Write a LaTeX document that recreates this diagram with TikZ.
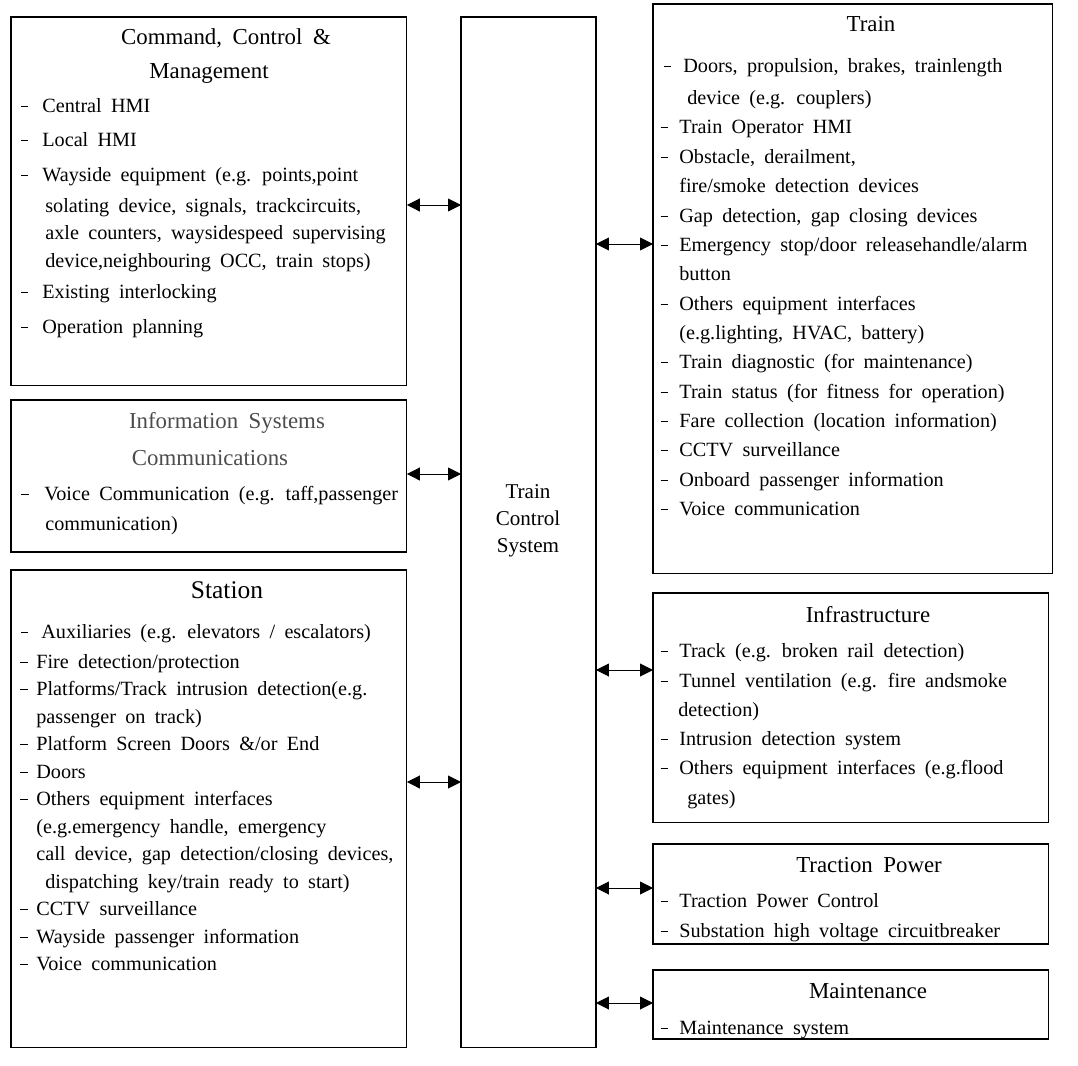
\documentclass[tikz,border=0pt]{standalone}
\usepackage{fontspec}
\setmainfont{Liberation Serif}
\usetikzlibrary{arrows.meta}
\newcommand{\myfontitem}{\fontsize{11.5}{14}\selectfont\spaceskip=5.3pt plus 1pt\relax}
\newcommand{\myfonthead}{\fontsize{13}{16}\selectfont\spaceskip=6pt plus 1pt\relax}
\newcommand{\dsh}[1][6.5pt]{\llap{\rule[2.8pt]{4.2pt}{0.5pt}\hspace{#1}}}
\tikzset{
	box/.style={draw, line width=0.6pt, anchor=north west, inner sep=0pt, outer sep=0pt},
	txt/.style={anchor=base west, inner sep=0pt, font=\myfontitem},
	head/.style={anchor=base, inner sep=0pt, font=\myfonthead},
	link/.style={arrows={Triangle[length=7.4pt,width=7.4pt]-Triangle[length=7.4pt,width=7.4pt]}, line width=0.5pt}
}
\begin{document}
\begin{tikzpicture}[x=0.02cm,y=-0.02cm]
			\useasboundingbox (0,0) rectangle (1078,1065);
			%Boxes
			\node[box, minimum width=7.92cm, minimum height=7.38cm] (ccm) at (11,17) {};
			\node[box, minimum width=7.92cm, minimum height=3.04cm] (info) at (11,400) {};
			\node[box, minimum width=7.92cm, minimum height=9.56cm] (stat) at (11,570) {};
			\node[box, minimum width=2.70cm, minimum height=20.62cm] (tcs) at (461,17) {};
			\node[box, minimum width=8.00cm, minimum height=11.40cm] (train) at (653,4) {};
			\node[box, minimum width=7.92cm, minimum height=4.60cm] (infra) at (653,593) {};
			\node[box, minimum width=7.92cm, minimum height=2.00cm] (trac) at (653,844) {};
			\node[box, minimum width=7.92cm, minimum height=1.38cm] (maint) at (653,970) {};
			%Command, Control & Management
			\node[head] (ccmHead1) at (226,44) {Command, Control \&};
			\node[head] (ccmHead2) at (209,78) {Management};
			\node[txt] (ccm1) at (42,112) {\dsh[8pt]Central HMI};
			\node[txt] (ccm2) at (42,146) {\dsh[8pt]Local HMI};
			\node[txt] (ccm3) at (42,181) {\dsh[8pt]Wayside equipment (e.g. points,point};
			\node[txt] (ccm4) at (45,212) {solating device, signals, trackcircuits,};
			\node[txt] (ccm5) at (45,239) {axle counters, waysidespeed supervising};
			\node[txt] (ccm6) at (45,267) {device,neighbouring OCC, train stops)};
			\node[txt] (ccm7) at (42,298) {\dsh[8pt]Existing interlocking};
			\node[txt] (ccm8) at (42,333) {\dsh[8pt]Operation planning};
			%Information Systems Communications
			\node[head, text=black!70] (infoHead1) at (227,428) {Information Systems};
			\node[head, text=black!70] (infoHead2) at (210,465) {Communications};
			\node[txt] (info1) at (44,500) {\dsh[9pt]Voice Communication (e.g. taff,passenger};
			\node[txt] (info2) at (45,530) {communication)};
			%Station
			\node[head, font=\fontsize{14.5}{17}\selectfont] (statHead) at (227,598) {Station};
			\node[txt] (stat1) at (41,638) {\dsh[7.5pt]Auxiliaries (e.g. elevators / escalators)};
			\node[txt] (stat2) at (36,668) {\dsh[5pt]Fire detection/protection};
			\node[txt] (stat3) at (36,695) {\dsh[5pt]Platforms/Track intrusion detection(e.g.};
			\node[txt] (stat4) at (36,723) {passenger on track)};
			\node[txt] (stat5) at (36,750) {\dsh[5pt]Platform Screen Doors \&/or End};
			\node[txt] (stat6) at (36,778) {\dsh[5pt]Doors};
			\node[txt] (stat7) at (36,805) {\dsh[5pt]Others equipment interfaces};
			\node[txt] (stat8) at (36,833) {(e.g.emergency handle, emergency};
			\node[txt] (stat9) at (36,860) {call device, gap detection/closing devices,};
			\node[txt] (stat10) at (45,888) {dispatching key/train ready to start)};
			\node[txt] (stat11) at (36,915) {\dsh[5pt]CCTV surveillance};
			\node[txt] (stat12) at (36,943) {\dsh[5pt]Wayside passenger information};
			\node[txt] (stat13) at (36,970) {\dsh[5pt]Voice communication};
			%Train Control System
			\node[font=\fontsize{12}{15.4}\selectfont, align=center, inner sep=0pt] (tcsText) at (528,521) {Train\\Control\\System};
			%Train
			\node[head] (trainHead) at (871,31) {Train};
			\node[txt] (train1) at (683,72) {\dsh[7pt]Doors, propulsion, brakes, trainlength};
			\node[txt] (train2) at (687,104) {device (e.g. couplers)};
			\node[txt] (train3) at (679,133) {\dsh Train Operator HMI};
			\node[txt] (train4) at (679,163) {\dsh Obstacle, derailment,};
			\node[txt] (train5) at (679,192) {fire/smoke detection devices};
			\node[txt] (train6) at (679,222) {\dsh Gap detection, gap closing devices};
			\node[txt] (train7) at (679,251) {\dsh Emergency stop/door releasehandle/alarm};
			\node[txt] (train8) at (679,280) {button};
			\node[txt] (train9) at (679,310) {\dsh Others equipment interfaces};
			\node[txt] (train10) at (679,339) {(e.g.lighting, HVAC, battery)};
			\node[txt] (train11) at (679,368) {\dsh Train diagnostic (for maintenance)};
			\node[txt] (train12) at (679,398) {\dsh Train status (for fitness for operation)};
			\node[txt] (train13) at (679,427) {\dsh Fare collection (location information)};
			\node[txt] (train14) at (679,456) {\dsh CCTV surveillance};
			\node[txt] (train15) at (679,486) {\dsh Onboard passenger information};
			\node[txt] (train16) at (679,515) {\dsh Voice communication};
			%Infrastructure
			\node[head] (infraHead) at (868,622) {Infrastructure};
			\node[txt] (infra1) at (679,657) {\dsh Track (e.g. broken rail detection)};
			\node[txt] (infra2) at (679,687) {\dsh Tunnel ventilation (e.g. fire andsmoke};
			\node[txt] (infra3) at (678,716) {detection)};
			\node[txt] (infra4) at (679,745) {\dsh Intrusion detection system};
			\node[txt] (infra5) at (679,774) {\dsh Others equipment interfaces (e.g.flood};
			\node[txt] (infra6) at (687,804) {gates)};
			%Traction Power
			\node[head] (tracHead) at (869,872) {Traction Power};
			\node[txt] (trac1) at (679,907) {\dsh Traction Power Control};
			\node[txt] (trac2) at (679,937) {\dsh Substation high voltage circuitbreaker};
			%Maintenance
			\node[head] (maintHead) at (868,998) {Maintenance};
			\node[txt] (maint1) at (679,1034) {\dsh Maintenance system};
			%Interfaces to the Train Control System
			\coordinate (l1) at (434,205);
			\coordinate (l2) at (434,474);
			\coordinate (l3) at (434,782);
			\coordinate (r1) at (625,244);
			\coordinate (r2) at (625,670);
			\coordinate (r3) at (625,888);
			\coordinate (r4) at (625,1003);
			\draw[link] (ccm.east |- l1) -- (tcs.west |- l1);
			\draw[link] (info.east |- l2) -- (tcs.west |- l2);
			\draw[link] (stat.east |- l3) -- (tcs.west |- l3);
			\draw[link] (tcs.east |- r1) -- (train.west |- r1);
			\draw[link] (tcs.east |- r2) -- (infra.west |- r2);
			\draw[link] (tcs.east |- r3) -- (trac.west |- r3);
			\draw[link] (tcs.east |- r4) -- (maint.west |- r4);
\end{tikzpicture}
\end{document}
